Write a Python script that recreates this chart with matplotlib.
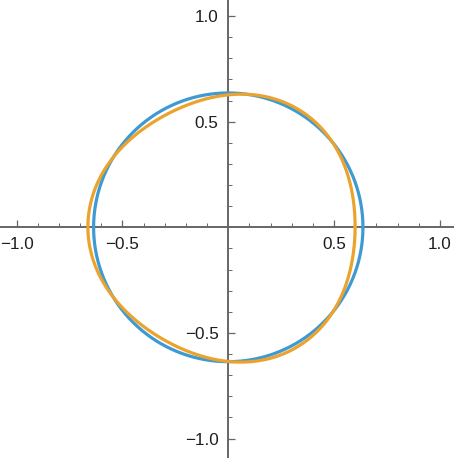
import numpy as np
import matplotlib
matplotlib.use("Agg")
import matplotlib.pyplot as plt
from matplotlib.ticker import FixedLocator

# --- data ---
circle_radius = 0.636
# orange curve: r(t) = base + mean + c1 cos t + s1 sin t + a3 cos 3t + b3 sin 3t
orange_base = 0.636
orange_terms = {"mean": -0.005, "c1": -0.008, "s1": -0.0025, "a3": -0.024, "b3": 0.0015}
major_ticks = [-1.0, -0.5, 0.5, 1.0]
tick_labels = ["\u22121.0", "\u22120.5", "0.5", "1.0"]

plt.rcParams['font.family'] = ['Liberation Sans', 'DejaVu Sans']

fig = plt.figure(figsize=(4.54, 4.58), dpi=100)
ax = fig.add_axes([0, 0, 1, 1])

t = np.linspace(0, 2 * np.pi, 721)
bx = circle_radius * np.cos(t)
by = circle_radius * np.sin(t)
k = orange_terms
r = (orange_base + k["mean"] + k["c1"] * np.cos(t) + k["s1"] * np.sin(t)
     + k["a3"] * np.cos(3 * t) + k["b3"] * np.sin(3 * t))
ox = r * np.cos(t)
oy = r * np.sin(t)

ax.plot(bx, by, color='#3E9AD2', lw=2.3, solid_capstyle='round', zorder=3)
ax.plot(ox, oy, color='#EBA32E', lw=2.3, solid_capstyle='round', zorder=4)

ax.set_xlim(-1.078, 1.066)
ax.set_ylim(-1.092, 1.076)

axis_color = '#666666'
for side in ['top', 'right']:
    ax.spines[side].set_visible(False)
ax.spines['left'].set_position(('data', 0))
ax.spines['bottom'].set_position(('data', 0))
for side in ['left', 'bottom']:
    ax.spines[side].set_color(axis_color)
    ax.spines[side].set_linewidth(1.4)
    ax.spines[side].set_zorder(2)

ax.xaxis.set_major_locator(FixedLocator(major_ticks))
ax.yaxis.set_major_locator(FixedLocator(major_ticks))
ax.set_xticklabels(tick_labels)
ax.set_yticklabels(tick_labels)
minor = [v / 10 for v in range(-10, 11) if v not in (-10, -5, 0, 5, 10)]
ax.xaxis.set_minor_locator(FixedLocator(minor))
ax.yaxis.set_minor_locator(FixedLocator(minor))

ax.tick_params(which='major', direction='in', length=5, width=0.9, color=axis_color,
               labelsize=12.3, labelcolor='#1E1E1E', pad=7)
ax.tick_params(which='minor', direction='in', length=3, width=0.7, color=axis_color)
ax.patch.set_alpha(0)

fig.savefig('out.png', dpi=100, facecolor='white')
